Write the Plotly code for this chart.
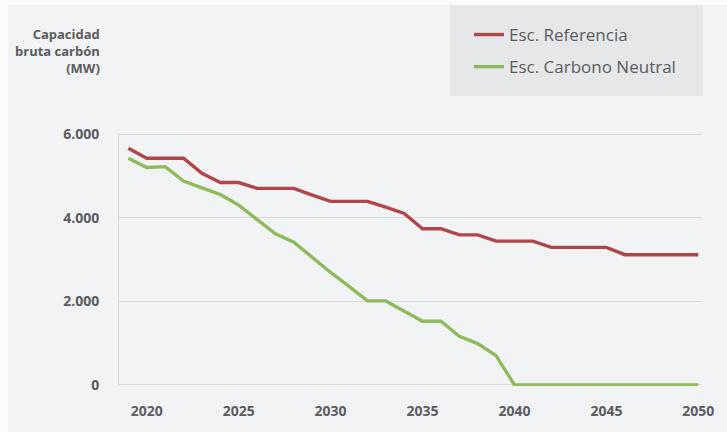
import plotly.graph_objects as go

years = list(range(2019, 2051))
referencia = [5660, 5420, 5420, 5420, 5060, 4840, 4840, 4700, 4700, 4700,
              4540, 4390, 4390, 4390, 4250, 4100, 3735, 3735, 3590, 3590,
              3440, 3440, 3440, 3290, 3290, 3290, 3290, 3115, 3115, 3115,
              3115, 3115]
carbono_neutral = [5420, 5200, 5220, 4875, 4715, 4555, 4300, 3950, 3615, 3415,
                   3050, 2690, 2355, 2010, 2010, 1770, 1525, 1525, 1165, 990,
                   700, 0, 0, 0, 0, 0, 0, 0, 0, 0,
                   0, 0]
series_names = ["Esc. Referencia", "Esc. Carbono Neutral"]
series_colors = ["#b0454a", "#8fba5c"]
x_ticks = [2020, 2025, 2030, 2035, 2040, 2045, 2050]
y_ticks = [0, 2000, 4000, 6000]
y_ticktext = ["0", "2.000", "4.000", "6.000"]
y_title = "Capacidad<br>bruta carbón<br>(MW)"

W, H = 727, 432
ML, MR, MT, MB = 119, 25, 133, 46
PW, PH = W - ML - MR, H - MT - MB


def px_x(px):
    return (px - ML) / PW


def px_y(py):
    return (H - MB - py) / PH


fig = go.Figure()
for name, vals, col, grp in zip(series_names, [referencia, carbono_neutral],
                                series_colors, ["a", "b"]):
    fig.add_trace(go.Scatter(x=years, y=vals, mode="lines", name=name,
                             legendgroup=grp,
                             line=dict(color=col, width=3.4)))

font_main = "Open Sans, Liberation Sans, sans-serif"
txt_col = "#5c5c5c"

fig.update_layout(
    width=W, height=H,
    margin=dict(l=ML, r=MR, t=MT, b=MB, pad=0),
    paper_bgcolor="#f2f3f5",
    plot_bgcolor="#f2f3f5",
    showlegend=True,
    legend=dict(
        x=px_x(469), y=px_y(17), xanchor="left", yanchor="top",
        bgcolor="rgba(0,0,0,0)",
        font=dict(family=font_main, size=17, color=txt_col),
        tracegroupgap=7,
        itemwidth=30,
    ),
    xaxis=dict(
        range=[2018.49, 2050.2],
        tickmode="array", tickvals=x_ticks,
        showgrid=False, zeroline=False, showline=False,
        ticks="", ticklabelstandoff=15,
        tickfont=dict(family=font_main, size=14, color=txt_col, weight="bold"),
        fixedrange=True,
    ),
    yaxis=dict(
        range=[-25, 6025],
        tickmode="array", tickvals=y_ticks, ticktext=y_ticktext,
        showgrid=True, gridcolor="#d9dadd", gridwidth=1,
        zeroline=False,
        showline=True, linecolor="#d9dadd", linewidth=1,
        ticks="", ticklabelstandoff=16,
        tickfont=dict(family=font_main, size=14, color=txt_col, weight="bold"),
        fixedrange=True,
    ),
    shapes=[
        dict(type="rect", xref="paper", yref="paper",
             x0=px_x(450), x1=px_x(703), y0=px_y(96), y1=px_y(5),
             fillcolor="#e6e7e9", line=dict(width=0), layer="below"),
        dict(type="rect", xref="paper", yref="paper",
             x0=px_x(0), x1=px_x(727), y0=px_y(5), y1=px_y(0),
             fillcolor="#fbfbfc", line=dict(width=0), layer="below"),
        dict(type="rect", xref="paper", yref="paper",
             x0=px_x(0), x1=px_x(8), y0=px_y(432), y1=px_y(0),
             fillcolor="#fbfbfc", line=dict(width=0), layer="below"),
    ],
    annotations=[
        dict(text=y_title, xref="paper", yref="paper",
             x=px_x(102), y=px_y(23), xanchor="right", yanchor="top",
             align="right", showarrow=False,
             font=dict(family=font_main, size=13, color=txt_col, weight="bold")),
    ],
)

fig.write_html("out.html")
